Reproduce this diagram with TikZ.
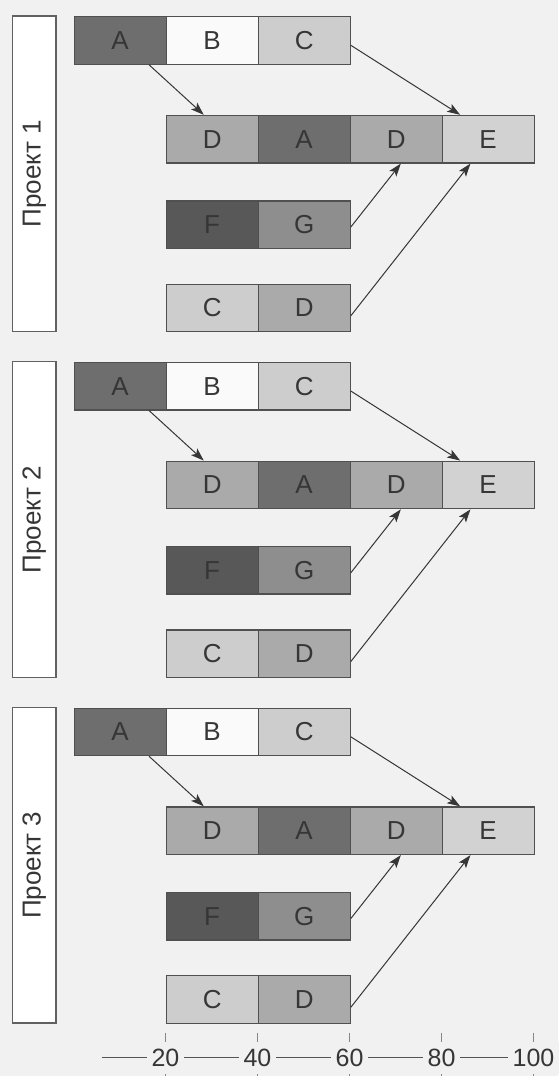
\documentclass[tikz,border=0pt]{standalone}
\usepackage{fontspec}
\setmainfont{Liberation Sans}
\usetikzlibrary{arrows.meta,calc}

% greys of the chart
\definecolor{paper}{HTML}{F1F1F1}
\definecolor{edge}{HTML}{505050}
\definecolor{ink}{HTML}{363636}
\definecolor{cA}{HTML}{6E6E6E}
\definecolor{cB}{HTML}{FAFAFA}
\definecolor{cC}{HTML}{CDCDCD}
\definecolor{cD}{HTML}{AAAAAA}
\definecolor{cE}{HTML}{D2D2D2}
\definecolor{cF}{HTML}{585858}
\definecolor{cG}{HTML}{8E8E8E}

\begin{document}
\begin{tikzpicture}[x=1pt,y=-1pt,
  cell/.style={draw=edge, line width=1.3pt, minimum width=92pt,
    minimum height=47.5pt, inner sep=0pt, anchor=north west,
    font=\fontsize{26}{26}\selectfont, text=ink},
  projbox/.style={draw=edge!90, fill=white, line width=1.3pt, rotate=90,
    minimum width=315.5pt, minimum height=43.3pt, inner sep=0pt,
    font=\fontsize{26}{26}\selectfont, text=ink},
  link/.style={draw=ink, line width=1pt,
    -{Stealth[length=13pt,width=9pt,inset=3pt]}},
  axisline/.style={draw=ink!85, line width=1pt},
  tickline/.style={draw=ink!60, line width=0.9pt},
  ticklabel/.style={fill=paper, inner xsep=5pt, inner ysep=7.5pt,
    text height=17pt, text depth=0pt,
    font=\fontsize{25}{25}\selectfont, text=ink}]

\fill[paper] (0,0) rectangle (558,1076);
\useasboundingbox (0,0) rectangle (558,1076);

% three identical project blocks, one below the other
\foreach \p [evaluate=\p as \T using {16+(\p-1)*345.75}] in {1,2,3} {
  % side label
  \node[projbox] (lab\p) at (34.35,\T+157.75) {Проект \p};

  % row 1: A B C
  \node[cell, fill=cA] (a\p) at (73.5,\T) {A};
  \node[cell, fill=cB] (b\p) at (165.5,\T) {B};
  \node[cell, fill=cC] (c\p) at (257.5,\T) {C};

  % row 2: D A D E
  \node[cell, fill=cD] (d\p) at (165.5,\T+98.8) {D};
  \node[cell, fill=cA] (x\p) at (257.5,\T+98.8) {A};
  \node[cell, fill=cD] (y\p) at (349.5,\T+98.8) {D};
  \node[cell, fill=cE] (e\p) at (441.5,\T+98.8) {E};

  % row 3: F G
  \node[cell, fill=cF] (f\p) at (165.5,\T+184.2) {F};
  \node[cell, fill=cG] (g\p) at (257.5,\T+184.2) {G};

  % row 4: C D
  \node[cell, fill=cC] (h\p) at (165.5,\T+267.6) {C};
  \node[cell, fill=cD] (k\p) at (257.5,\T+267.6) {D};

  % dependencies
  \draw[link] ($(a\p.south west)!0.81!(a\p.south east)$)
           -- ($(d\p.north west)!0.41!(d\p.north east)$);
  \draw[link] ($(c\p.north east)!0.6!(c\p.south east)$)
           -- ($(e\p.north west)!0.2!(e\p.north east)$);
  \draw[link] ($(g\p.north east)!0.55!(g\p.south east)$)
           -- ($(y\p.south west)!0.55!(y\p.south east)$);
  \draw[link] ($(k\p.north east)!0.66!(k\p.south east)$)
           -- ($(e\p.south west)!0.31!(e\p.south east)$);
}

% time axis
\coordinate (axL) at (101.7,1057.7);
\coordinate (axR) at (533.5,1057.7);
\draw[axisline] (axL) -- (axR);
\foreach \v/\xx in {20/165.5,40/257.5,60/349.5,80/441.5,100/533.5} {
  \draw[tickline] (\xx,1033) -- (\xx,1076);
  \node[ticklabel] (t\v) at (\xx,1057.7) {\v};
}
\end{tikzpicture}
\end{document}
